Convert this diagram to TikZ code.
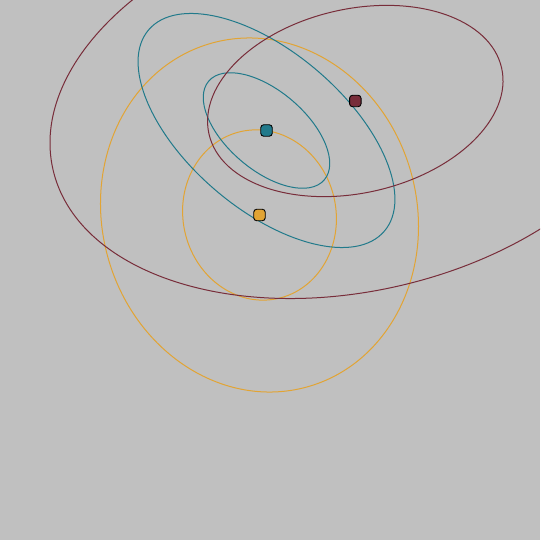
\documentclass[tikz,border=0pt]{standalone}
\begin{document}
\begin{tikzpicture}[x=1pt,y=1pt]
\definecolor{bg}{RGB}{192,192,192}
\definecolor{cteal}{RGB}{33,122,139}
\definecolor{cred}{RGB}{120,45,58}
\definecolor{corange}{RGB}{226,164,52}
\tikzset{
  orbit/.style={line width=1pt},
  marker/.style={draw=black, line width=0.9pt, rounded corners=3pt, minimum size=11.5pt, inner sep=0pt}
}
\fill[bg] (0,0) rectangle (540,540);
\useasboundingbox (0,0) rectangle (540,540);
\clip (0,0) rectangle (540,540);
\coordinate (tc) at (266.5,409.5);
\coordinate (rc) at (355.3,439);
\coordinate (oc) at (259.5,325);
% orange
\draw[orbit, corange, rotate around={12:(oc)}] (oc) ellipse [x radius=76.5, y radius=85.5];
\draw[orbit, corange, rotate around={15.4:(oc)}] (oc) ellipse [x radius=157.4, y radius=178.4];
% teal
\draw[orbit, cteal, rotate around={-40.5:(tc)}] (tc) ellipse [x radius=76, y radius=39.5];
\draw[orbit, cteal, rotate around={-40.5:(tc)}] (tc) ellipse [x radius=155, y radius=78.5];
% red
\draw[orbit, cred, rotate around={12.7:(rc)}] (rc) ellipse [x radius=150, y radius=92];
\draw[orbit, cred, rotate around={12.7:(rc)}] (rc) ellipse [x radius=310, y radius=190];
% markers
\node[marker, fill=cteal] (t) at (tc) {};
\node[marker, fill=cred] (r) at (rc) {};
\node[marker, fill=corange] (o) at (oc) {};
\end{tikzpicture}
\end{document}
